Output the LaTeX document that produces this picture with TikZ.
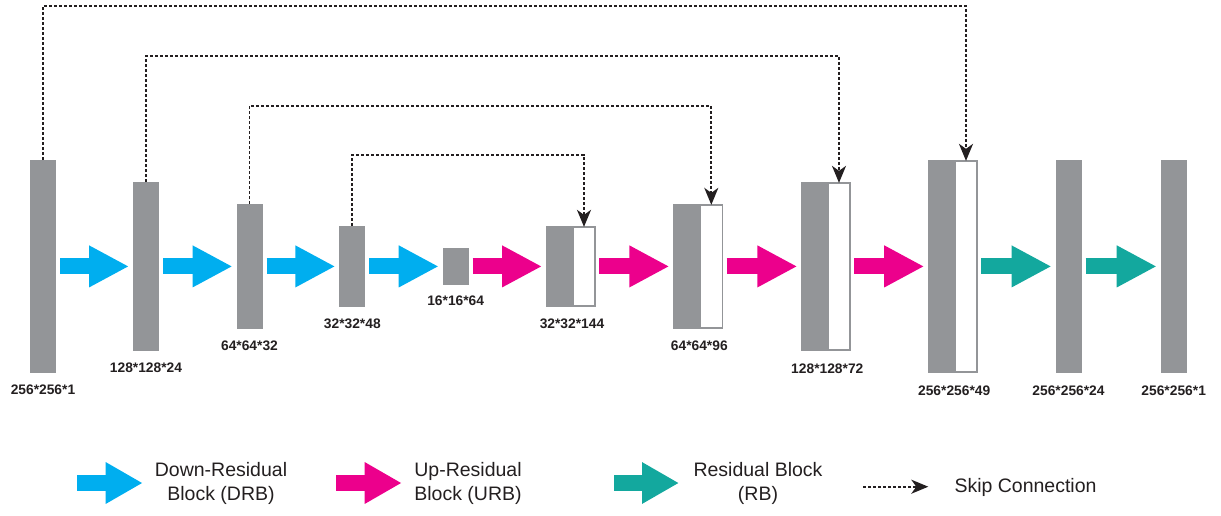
\documentclass[tikz,border=0pt]{standalone}
\usepackage{fontspec}
\setmainfont{Liberation Sans}
\usetikzlibrary{arrows.meta}
\definecolor{barGray}{HTML}{939598}
\definecolor{drbCyan}{HTML}{00AEEF}
\definecolor{urbMagenta}{HTML}{EC008C}
\definecolor{rbTeal}{HTML}{13A89E}
\definecolor{txtDark}{HTML}{231F20}
\begin{document}
\begin{tikzpicture}[x=1pt,y=-1pt,
  bar/.style={rectangle, inner sep=0pt, outer sep=0pt, fill=barGray, draw=none, minimum width=26pt},
  catbar/.style={rectangle, inner sep=0pt, outer sep=0pt, fill=white, draw=barGray, line width=1.6pt, minimum width=22.4pt},
  fat/.style={line width=16pt, -{Triangle[length=40pt,width=39pt]}, shorten <=4pt, shorten >=4pt},
  legfat/.style={line width=16pt, -{Triangle[length=37pt,width=39pt]}},
  skip/.style={draw=txtDark, line width=1.9pt, dash pattern=on 3pt off 2pt, -{Stealth[length=17pt,width=14pt,inset=5pt]}},
  lbl/.style={font=\fontsize{13.8}{16}\selectfont\bfseries, text=txtDark, inner sep=0pt, anchor=base},
  legend/.style={font=\fontsize{19.5}{24}\selectfont, text=txtDark, inner sep=0pt, align=center}]
\useasboundingbox (0,0) rectangle (1221,515);

% bars
\node[bar, minimum height=212.7pt] (b1) at (43,266.4) {};
\node[bar, minimum height=168.7pt] (b2) at (146,266.4) {};
\node[bar, minimum height=124.7pt] (b3) at (249.5,266.4) {};
\node[bar, minimum height=80.7pt] (b4) at (352.3,266.4) {};
\node[bar, minimum height=37pt] (b5) at (455.7,266.4) {};
\node[bar, minimum height=80.7pt] (b6g) at (559,266.4) {};
\node[catbar, minimum height=79.1pt] (b6w) at (584,266.4) {};
\node[bar, minimum height=124.7pt] (b7g) at (686.3,266.4) {};
\node[catbar, minimum height=123.1pt] (b7w) at (711.3,266.4) {};
\node[bar, minimum height=168.7pt] (b8g) at (814.3,266.4) {};
\node[catbar, minimum height=167.1pt] (b8w) at (839,266.4) {};
\node[bar, minimum height=212.7pt] (b9g) at (941.2,266.4) {};
\node[catbar, minimum height=211.1pt] (b9w) at (966,266.4) {};
\node[bar, minimum height=212.7pt] (b10) at (1068.5,266.4) {};
\node[bar, minimum height=212.7pt] (b11) at (1173.7,266.4) {};

% labels
\node[lbl] (l1) at ([yshift=-22pt]b1.south) {256*256*1};
\node[lbl] (l2) at ([yshift=-22pt]b2.south) {128*128*24};
\node[lbl] (l3) at ([yshift=-22pt]b3.south) {64*64*32};
\node[lbl] (l4) at ([yshift=-22pt]b4.south) {32*32*48};
\node[lbl] (l5) at ([yshift=-21pt]b5.south) {16*16*64};
\node[lbl] (l6) at ([yshift=-22pt]b6g.south east) {32*32*144};
\node[lbl] (l7) at ([yshift=-22pt]b7g.south east) {64*64*96};
\node[lbl] (l8) at ([yshift=-23pt]b8g.south east) {128*128*72};
\node[lbl] (l9) at ([yshift=-22.6pt]b9g.south east) {256*256*49};
\node[lbl] (l10) at ([yshift=-22.6pt]b10.south) {256*256*24};
\node[lbl] (l11) at ([yshift=-22.6pt]b11.south) {256*256*1};

% block arrows
\draw[fat, drbCyan] (b1) -- (b2);
\draw[fat, drbCyan] (b2) -- (b3);
\draw[fat, drbCyan] (b3) -- (b4);
\draw[fat, drbCyan] (b4) -- (b5);
\draw[fat, urbMagenta] (b5) -- (b6g);
\draw[fat, urbMagenta] (b6w) -- (b7g);
\draw[fat, urbMagenta] (b7w) -- (b8g);
\draw[fat, urbMagenta] (b8w) -- (b9g);
\draw[fat, rbTeal] (b9w) -- (b10);
\draw[fat, rbTeal] (b10) -- (b11);

% skip connections
\coordinate (s1) at (0,6);
\coordinate (s2) at (0,56);
\coordinate (s3) at (0,106);
\coordinate (s4) at (0,155);
\draw[skip] (b1.north) -- (b1.north |- s1) -| (b9w.north);
\draw[skip] (b2.north) -- (b2.north |- s2) -| (b8w.north);
\draw[skip] (b3.north) -- (b3.north |- s3) -| (b7w.north);
\draw[skip] (b4.north) -- (b4.north |- s4) -| (b6w.north);

% legend
\coordinate (g1s) at (77.3,483);
\coordinate (g1e) at (142.7,483);
\coordinate (g2s) at (336,483);
\coordinate (g2e) at (401.7,483);
\coordinate (g3s) at (614,483);
\coordinate (g3e) at (679,483);
\coordinate (g4s) at (863.3,486.7);
\coordinate (g4e) at (928.3,486.7);
\draw[legfat, drbCyan] (g1s) -- (g1e);
\draw[legfat, urbMagenta] (g2s) -- (g2e);
\draw[legfat, rbTeal] (g3s) -- (g3e);
\draw[skip] (g4s) -- (g4e);
\node[legend] (t1) at (221,483.6) {Down-Residual\\Block (DRB)};
\node[legend] (t2) at (468,483.6) {Up-Residual\\Block (URB)};
\node[legend] (t3) at (758,483.6) {Residual Block\\(RB)};
\node[legend, anchor=base west] (t4) at (954.3,492.3) {Skip Connection};
\end{tikzpicture}
\end{document}
